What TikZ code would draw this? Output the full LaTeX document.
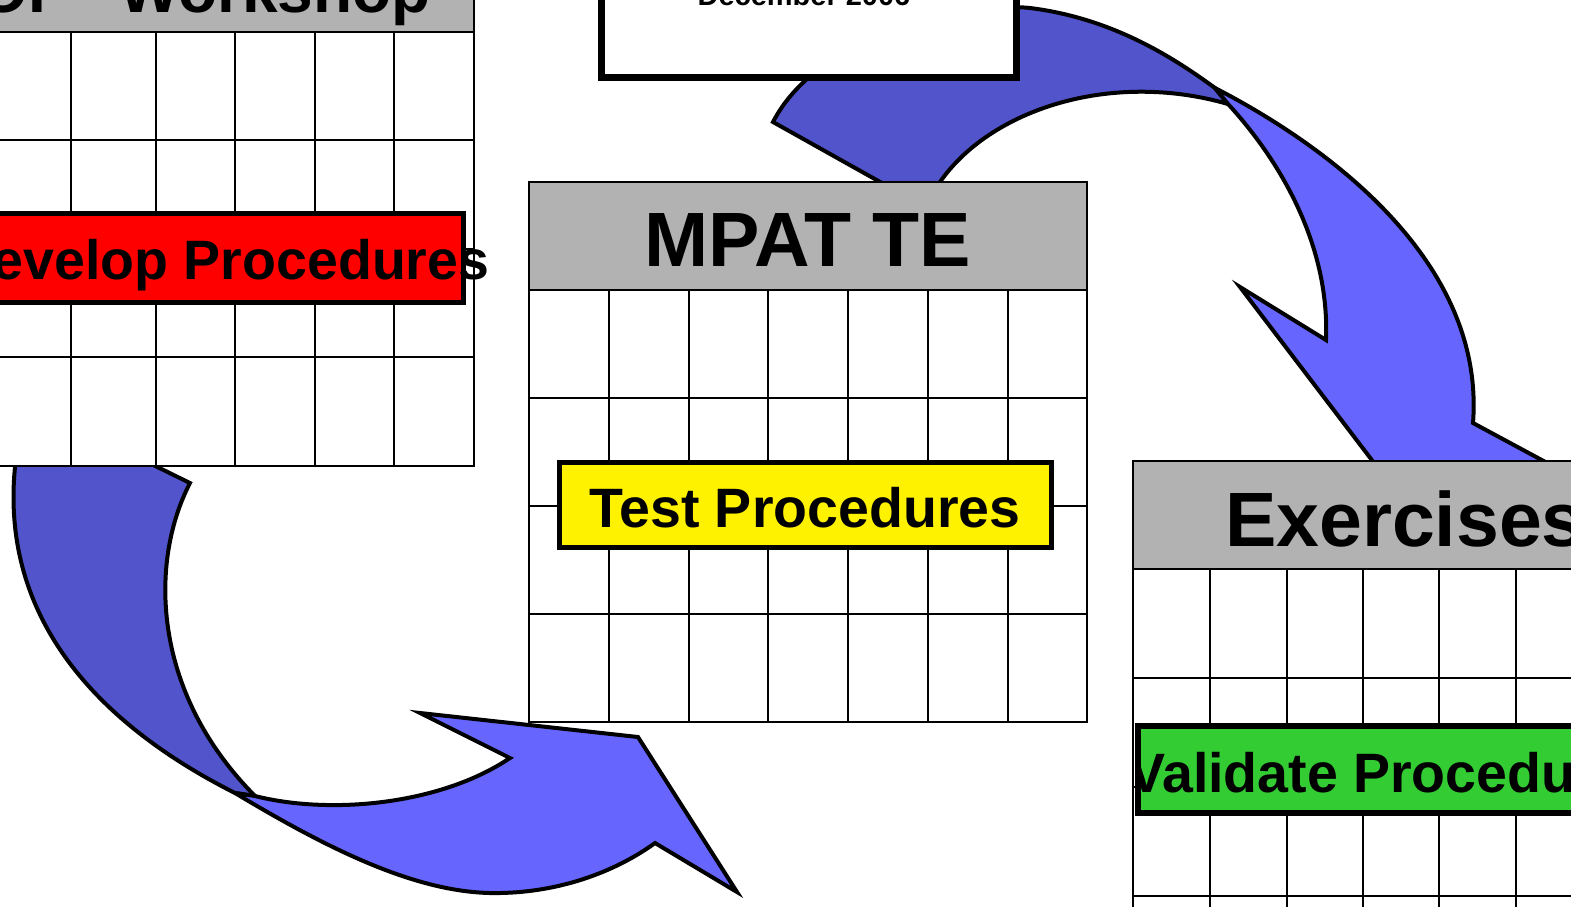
\documentclass[tikz,border=0pt]{standalone}
\usepackage{fontspec}
\setmainfont{Liberation Sans}
\definecolor{darkblue}{RGB}{82,84,204}
\definecolor{lightblue}{RGB}{102,102,255}
\definecolor{hdrgray}{RGB}{178,178,178}
\definecolor{grn}{RGB}{51,204,51}
\tikzset{
  arrowdark/.style={fill=darkblue, draw=black, line width=4pt},
  arrowlight/.style={fill=lightblue, draw=black, line width=4pt},
  hdr/.style={fill=hdrgray},
  gridline/.style={draw=black, line width=2.2pt},
  labelbox/.style={draw=black, line width=5pt},
  bigtext/.style={font=\fontsize{77}{84}\selectfont\bfseries, inner sep=0pt},
  lefthdrtext/.style={font=\fontsize{64}{70}\selectfont\bfseries, inner sep=0pt},
  midtext/.style={font=\fontsize{55.5}{60}\selectfont\bfseries, inner sep=0pt},
  smalltext/.style={font=\fontsize{29}{31}\selectfont\bfseries, inner sep=0pt}
}
\begin{document}
\begin{tikzpicture}[x=1pt,y=-1pt]
\useasboundingbox (0,0) rectangle (1571,906);
\clip (0,0) rectangle (1571,906);

% ---- top arrow (MPAT TE -> Exercises)
\path[arrowdark] (898,192) -- (773,122)
  .. controls (815,40) and (950,0) .. (1030,8)
  .. controls (1110,18) and (1170,55) .. (1215,88)
  -- (1228,104)
  .. controls (1110,70) and (990,110) .. (940,182)
  -- (933,192) -- cycle;
\path[arrowlight] (1215,88)
  .. controls (1335,150) and (1485,265) .. (1473,423)
  -- (1564,472) -- (1451,564) -- (1240,287) -- (1326,340)
  .. controls (1330,240) and (1275,155) .. (1228,104) -- cycle;

% ---- bottom arrow (Workshop -> MPAT TE)
\path[arrowdark] (135,456) -- (190,483)
  .. controls (150,560) and (150,690) .. (255,796)
  -- (235,793)
  .. controls (100,725) and (0,620) .. (15,467)
  -- (15,450) -- cycle;
\path[arrowlight] (235,793)
  .. controls (330,850) and (420,895) .. (500,893)
  .. controls (560,892) and (615,872) .. (655,843)
  -- (737,892) -- (638,737) -- (420,713) -- (510,758)
  .. controls (440,805) and (330,815) .. (255,796) -- cycle;

% ---- left table (Workshop)
\fill[hdr] (-20,-200) rectangle (474,32);
\fill[white] (-20,32) rectangle (474,466);
\foreach \x in {71,156,235,315,394} \draw[gridline] (\x,32) -- (\x,466);
\foreach \y in {140,249,357} \draw[gridline] (-20,\y) -- (474,\y);
\draw[gridline] (-20,32) -- (474,32);
\draw[gridline] (-20,-200) rectangle (474,466);
\node[lefthdrtext, anchor=base east] (ws) at (431,12) {SOP\hspace{30pt} Workshop};
\draw[labelbox, fill=red] (-20,213.5) rectangle (463.5,302);
\node[midtext, anchor=base east] (dev) at (489.5,279) {Develop Procedures};

% ---- center table (MPAT TE)
\fill[hdr] (529,182) rectangle (1087,290);
\fill[white] (529,290) rectangle (1087,722);
\foreach \x in {609,689,768,848,928,1008} \draw[gridline] (\x,290) -- (\x,722);
\foreach \y in {398,506,614} \draw[gridline] (529,\y) -- (1087,\y);
\draw[gridline] (529,290) -- (1087,290);
\draw[gridline] (529,182) rectangle (1087,722);
\node[bigtext, anchor=base] (mpat) at (808,266) {MPAT TE};
\draw[labelbox, fill=yellow] (559.5,462.5) rectangle (1051.5,547.5);
\node[midtext, anchor=base] (test) at (805,527) {Test Procedures};

% ---- right table (Exercises)
\fill[hdr] (1133,461) rectangle (1620,569);
\fill[white] (1133,569) rectangle (1620,1010);
\foreach \x in {1210,1287,1363,1439,1516} \draw[gridline] (\x,569) -- (\x,1010);
\foreach \y in {678,787,896} \draw[gridline] (1133,\y) -- (1620,\y);
\draw[gridline] (1133,569) -- (1620,569);
\draw[gridline] (1133,461) rectangle (1620,1010);
\node[bigtext, anchor=base west] (exer) at (1225,546) {Exercises};
\draw[labelbox, line width=6pt, fill=grn] (1138,726) rectangle (1700,813);
\begin{scope}
  \clip (1141,700) rectangle (1700,830);
  \node[midtext, anchor=base west] (val) at (1128,792) {Validate Procedures};
\end{scope}

% ---- top box
\draw[line width=7pt, fill=white] (601.5,-50) rectangle (1016.5,77.5);
\node[smalltext, anchor=base] (dec) at (804,5) {December 2006};
\end{tikzpicture}
\end{document}
